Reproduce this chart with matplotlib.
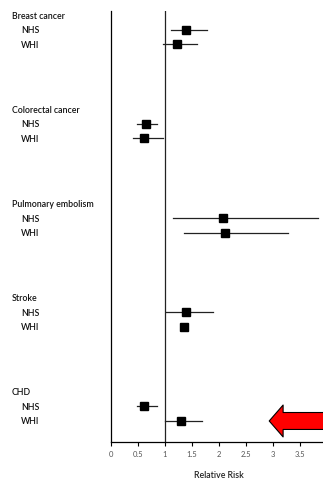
import numpy as np
import matplotlib
matplotlib.use("Agg")
import matplotlib.pyplot as plt
import matplotlib.transforms as mtransforms

# outcomes and studies
outcomes = ["Breast cancer", "Colorectal cancer", "Pulmonary embolism", "Stroke", "CHD"]
studies = ["NHS", "WHI"]

# relative risk (point, lower, upper) per outcome, NHS then WHI
nhs_rr = [1.39, 0.65, 2.07, 1.39, 0.62]
nhs_lo = [1.12, 0.48, 1.15, 1.01, 0.48]
nhs_hi = [1.77, 0.86, 3.84, 1.88, 0.86]

whi_rr = [1.23, 0.61, 2.11, 1.35, 1.29]
whi_lo = [0.97, 0.41, 1.36, 1.35, 1.00]
whi_hi = [1.60, 0.96, 3.28, 1.35, 1.68]

xticks = [0, 0.5, 1, 1.5, 2, 2.5, 3, 3.5, 4]
xticklabels = ["0", "0.5", "1", "1.5", "2", "2.5", "3", "3.5", "4"]

plt.rcParams['font.family'] = ['Lato', 'DejaVu Sans']

fig = plt.figure(figsize=(3.23, 4.81), dpi=100)
ax = fig.add_axes([111 / 323, 38 / 481, 216 / 323, 431 / 481])

step = 6.5
lbl = mtransforms.blended_transform_factory(fig.transFigure, ax.transData)

for g, name in enumerate(outcomes):
    base = g * step
    ax.text(12 / 323, base, name, transform=lbl, fontsize=6.3,
            va='center', ha='left', color='#111111', fontweight='semibold')
    rows = [(nhs_rr[g], nhs_lo[g], nhs_hi[g]), (whi_rr[g], whi_lo[g], whi_hi[g])]
    for k, (rr, lo, hi) in enumerate(rows):
        y = base + 1 + k
        ax.text(21 / 323, y, studies[k], transform=lbl, fontsize=6.3,
                va='center', ha='left', color='#111111', fontweight='semibold')
        ax.plot([lo, hi], [y, y], color='#222222', lw=0.9, zorder=2)
        ax.plot(rr, y, marker='s', ms=5.5, color='black', zorder=3)

# reference line at RR = 1
ax.axvline(1, color='#222222', lw=0.9, zorder=1)

# red arrow pointing at the WHI CHD result
y_arrow = 4 * step + 2
ax.annotate("", xy=(2.93, y_arrow), xytext=(4.3, y_arrow),
            arrowprops=dict(arrowstyle="simple,head_width=2.3,head_length=1.0,tail_width=1.22",
                            mutation_scale=10, fc='#ff0000', ec='black', lw=0.8,
                            shrinkA=0, shrinkB=0),
            annotation_clip=False)

ax.set_xlim(0, 4)
ax.set_ylim(29.45, -0.28)
ax.set_xticks(xticks)
ax.set_xticklabels(xticklabels, fontsize=5.5, color='#555555')
ax.tick_params(axis='x', length=3, width=0.8, pad=3)
ax.set_yticks([])
ax.spines['top'].set_visible(False)
ax.spines['right'].set_visible(False)
ax.spines['left'].set_linewidth(0.9)
ax.spines['bottom'].set_linewidth(0.9)
ax.set_xlabel("Relative Risk", fontsize=6.3, labelpad=9, color='#222222',
              fontweight='semibold')

fig.savefig("out.png", dpi=100)
